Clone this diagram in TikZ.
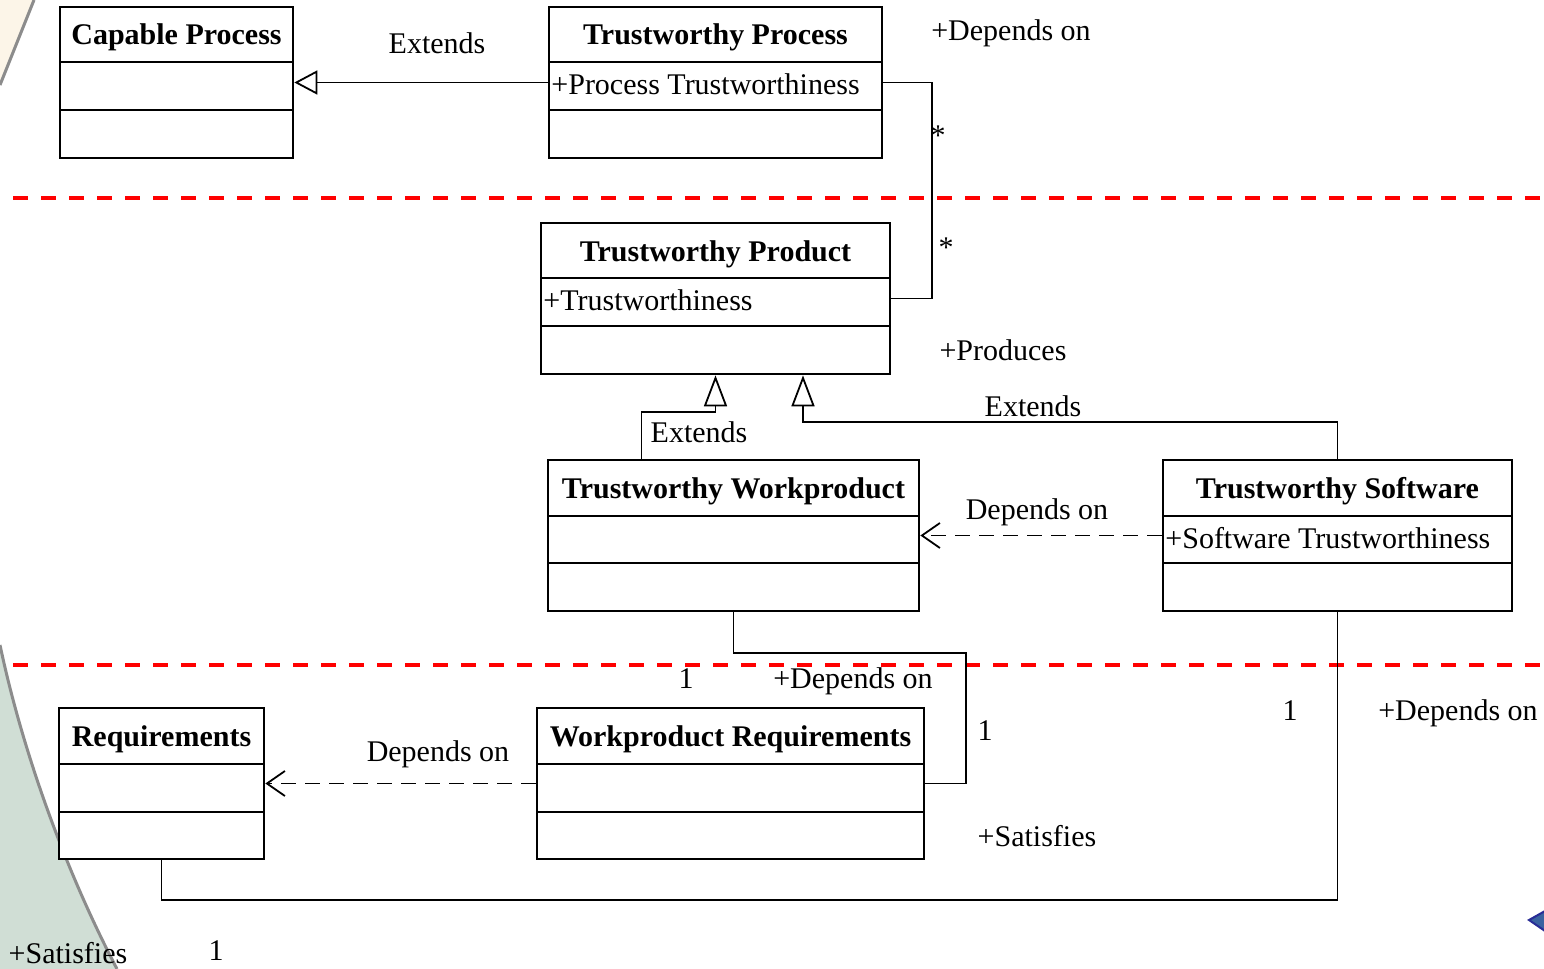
\documentclass[tikz,border=0pt]{standalone}
\usepackage{fontspec}
\setmainfont{Liberation Serif}
\usetikzlibrary{arrows.meta,fit}

\definecolor{sandtint}{RGB}{252,245,232}
\definecolor{sagetint}{RGB}{208,222,213}
\definecolor{edgegray}{RGB}{140,140,140}
\definecolor{navblue}{RGB}{58,98,160}
\definecolor{navedge}{RGB}{40,44,150}

\tikzset{
  every node/.style={font=\fontsize{15pt}{18pt}\selectfont, inner sep=0pt},
  classbox/.style={draw, line width=1.35pt, rectangle, inner sep=0pt, fill=white},
  classline/.style={line width=1.35pt},
  titletext/.style={anchor=base, font=\fontsize{15pt}{18pt}\selectfont\bfseries},
  attrtext/.style={anchor=base west},
  lbl/.style={anchor=base},
  layerline/.style={red, line width=1.75pt, dash pattern=on 7.5pt off 6.5pt, dash phase=7.5pt},
  assoc/.style={line width=0.9pt},
  gen/.style={line width=0.9pt, -{Triangle[open, length=11.5pt, width=12pt, line width=0.9pt]}},
  genup/.style={line width=0.9pt, -{Triangle[open, length=15.5pt, width=11.5pt, line width=0.9pt]}},
  dep/.style={line width=0.9pt, dash pattern=on 7.5pt off 4.5pt,
              -{Straight Barb[length=9pt, width=12.5pt, line width=0.9pt]}},
}

% name, left, top, right, bottom, first divider, second divider, title
\newcommand{\umlclass}[8]{%
  \node[classbox, fit={(#2,#3) (#4,#5)}] (#1) {};
  \draw[classline] (#2,#6) -- (#4,#6);
  \draw[classline] (#2,#7) -- (#4,#7);
  \node[titletext] (#1-title) at ({(#2+#4)/2},{#3+38}) {#8};
}

\begin{document}
\begin{tikzpicture}[x=0.5pt, y=-0.5pt]
  \useasboundingbox (0,0) rectangle (1544,969);
  \fill[white] (0,0) rectangle (1544,969);

  % slide backdrop at the left edge
  \fill[sandtint] (0,0) -- (34,0) .. controls (22,30) and (10,60) .. (0,85) -- cycle;
  \draw[edgegray, line width=1.5pt] (34,0) .. controls (22,30) and (10,60) .. (0,85);
  \fill[sagetint] (0,645) .. controls (20,740) and (60,860) .. (117,969) -- (0,969) -- cycle;
  \draw[edgegray, line width=1.5pt] (0,645) .. controls (20,740) and (60,860) .. (117,969);

  % navigation marker
  \filldraw[fill=navblue, draw=navedge, line width=1pt] (1529,920) -- (1545,911) -- (1545,931) -- cycle;

  % layer separators
  \draw[layerline] (0,198) -- (1544,198);
  \draw[layerline] (0,665) -- (1544,665);

  % classes
  \umlclass{cp}{60}{7}{293}{158}{62}{110}{Capable Process}
  \umlclass{tp}{549}{7}{882}{158}{62}{110}{Trustworthy Process}
  \node[attrtext] (tp-attr) at (551,94) {+Process Trustworthiness};

  \umlclass{tpr}{541}{223}{890}{374}{278}{326}{Trustworthy Product}
  \node[attrtext] (tpr-attr) at (543,310) {+Trustworthiness};

  \umlclass{tw}{548}{460}{919}{611}{516}{563}{Trustworthy Workproduct}
  \umlclass{ts}{1163}{460}{1512}{611}{516}{563}{Trustworthy Software}
  \node[attrtext] (ts-attr) at (1165,548) {+Software Trustworthiness};

  \umlclass{req}{59}{708}{264}{859}{764}{812}{Requirements}
  \umlclass{wr}{537}{708}{924}{859}{764}{812}{Workproduct Requirements}

  % generalizations
  \draw[gen] (tp.west) -- (cp.east);
  \draw[genup] ([xshift=-46pt]tw.north) -- ++(0,-47) -| (tpr.south);
  \draw[genup] (ts.north) -- ++(0,-37) -| ([xshift=43.75pt]tpr.south);

  % dependencies
  \draw[dep] (ts.west) -- (tw.east);
  \draw[dep] (wr.west) -- (req.east);

  % associations
  \draw[assoc] (tp.east) -- ++(49,0) |- (tpr.east);
  \draw[assoc] (tw.south) -- ++(0,41) -| ([xshift=20.5pt]wr.east) -- (wr.east);
  \draw[assoc] (req.south) -- ++(0,40) -| (ts.south);

  % connector labels
  \node[lbl] (ext-cp) at (437,54) {Extends};
  \node[lbl] (role-tp) at (1011,40) {+Depends on};
  \node[lbl] (mult-tp) at (938,145) {*};
  \node[lbl] (mult-tpr) at (946,257) {*};
  \node[lbl] (role-tpr) at (1003,360) {+Produces};
  \node[lbl] (ext-tw) at (699,442) {Extends};
  \node[lbl] (ext-ts) at (1033,416) {Extends};
  \node[lbl] (dep-ts) at (1037,519) {Depends on};
  \node[lbl] (mult-tw) at (686,688) {1};
  \node[lbl] (role-tw) at (853,688) {+Depends on};
  \node[lbl] (mult-wr) at (985,740) {1};
  \node[lbl] (role-wr) at (1037,846) {+Satisfies};
  \node[lbl] (dep-wr) at (438,761) {Depends on};
  \node[lbl] (mult-ts) at (1290,720) {1};
  \node[lbl] (role-ts) at (1458,720) {+Depends on};
  \node[lbl] (role-req) at (68,963) {+Satisfies};
  \node[lbl] (mult-req) at (216,960) {1};
\end{tikzpicture}
\end{document}
